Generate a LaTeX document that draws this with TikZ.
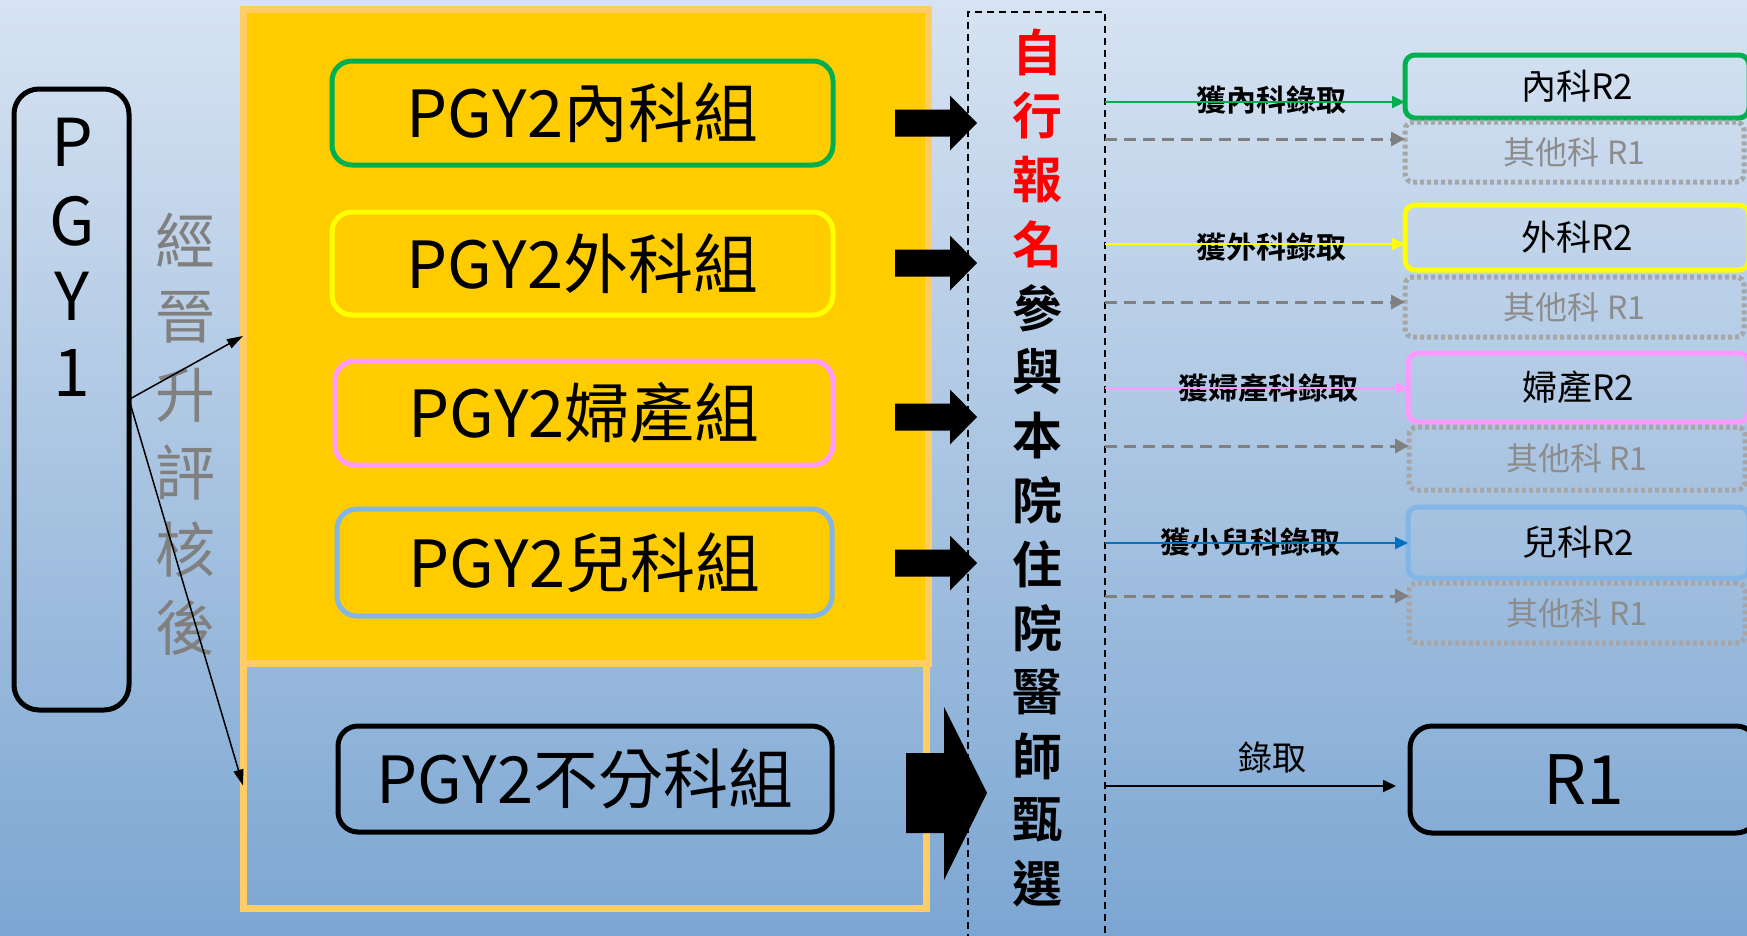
\documentclass[tikz,border=0pt]{standalone}
\usepackage{fontspec}
\setmainfont{Noto Sans CJK TC}[BoldFont={Noto Sans CJK TC Bold}]
\usetikzlibrary{arrows.meta,calc}
\definecolor{bgtop}{RGB}{215,227,242}
\definecolor{bgbot}{RGB}{124,166,210}
\definecolor{gold}{HTML}{FFCC00}
\definecolor{lorange}{HTML}{FFCC66}
\definecolor{mgreen}{HTML}{00B050}
\definecolor{myellow}{HTML}{FFFF00}
\definecolor{mpink}{HTML}{FF99FF}
\definecolor{lblue}{HTML}{82B6E6}
\definecolor{dblue}{HTML}{0070C0}
\definecolor{dgray}{HTML}{808080}
\definecolor{lgray}{HTML}{A6A6A6}
\definecolor{tgray}{RGB}{140,140,140}
\newcommand\myfs[1]{\fontsize{#1}{#1}\selectfont}
\begin{document}
\begin{tikzpicture}[x=1pt,y=-1pt,
  every node/.style={inner sep=0pt,outer sep=0pt},
  gbox/.style={draw=#1,line width=5pt,rounded corners=20pt,font=\myfs{65}},
  rbox/.style={draw=#1,line width=5pt,rounded corners=10pt,font=\myfs{35}},
  obox/.style={draw=lgray,line width=5pt,rounded corners=8pt,dash pattern=on 4pt off 3pt,font=\myfs{32},text=tgray},
  conn/.style={draw=#1,line width=2pt,-{Triangle[length=13pt,width=12pt]}},
  gconn/.style={draw=dgray,line width=3pt,dash pattern=on 12pt off 7pt,-{Triangle[length=14pt,width=14pt]}},
  thinarr/.style={draw=black,line width=1.5pt,-{Triangle[length=16pt,width=10pt]}},
  lab/.style={font=\bfseries\myfs{30}},
  vchar/.style={font=\bfseries\myfs{50}},
  gchar/.style={font=\myfs{60},text=dgray},
  pchar/.style={font=\myfs{66}},
  blk/.style={fill=black}
]
\useasboundingbox (0,0) rectangle (1747,935);
\clip (0,0) rectangle (1747,935);
\shade[top color=bgtop,bottom color=bgbot] (0,0) rectangle (1747,935);

% left PGY1
\node[draw,line width=5pt,rounded corners=25pt,minimum width=115pt,minimum height=621pt] (p1) at (71.5,399.5) {};
\foreach \c/\y [count=\i] in {P/142,G/221,Y/296,1/373} {\node[pchar] (pl\i) at (72,\y) {\c};}
\foreach \c [count=\i from 0] in {經,晉,升,評,核,後} {\node[gchar] (g\i) at (185,{240+77.5*\i}) {\c};}

% group boxes
\node[fill=gold,draw=lorange,line width=7pt,minimum width=685pt,minimum height=654pt] (ybox) at (585.5,336) {};
\node[draw=lorange,line width=7pt,minimum width=683pt,minimum height=245pt] (lbox) at (584.5,785.5) {};

\node[gbox=mgreen,minimum width=501pt,minimum height=104pt] (nk) at (582.5,113) {PGY2內科組};
\node[gbox=myellow,minimum width=501pt,minimum height=103pt] (wk) at (582.5,263.5) {PGY2外科組};
\node[gbox=mpink,minimum width=498pt,minimum height=104pt] (fc) at (584,413) {PGY2婦產組};
\node[gbox=lblue,minimum width=495pt,minimum height=107pt] (ek) at (584.5,562.5) {PGY2兒科組};
\node[gbox=black,minimum width=494pt,minimum height=106pt] (bf) at (585,779) {PGY2不分科組};

\draw[thinarr] (p1.east) -- (ybox.west);
\draw[thinarr] (p1.east) -- (lbox.west);

% block arrows
\foreach \c in {123,263,417,563} {
  \fill[blk] (895,\c-13.5) -- (950,\c-13.5) -- (950,\c-27.5) -- (977,\c) -- (950,\c+27.5) -- (950,\c+13.5) -- (895,\c+13.5) -- cycle;
}
\fill[blk] (906,753) -- (944,753) -- (944,707) -- (987,793) -- (944,880) -- (944,833) -- (906,833) -- cycle;

% selection dashed box
\node[draw,line width=1.5pt,dash pattern=on 7pt off 5pt,minimum width=137pt,minimum height=940pt] (sel) at (1036.5,482) {};
\foreach \c [count=\i from 0] in {自,行,報,名} {\node[vchar,text=red] (v\i) at (1037,{52+64*\i}) {\c};}
\foreach \c [count=\i from 4] in {參,與,本,院,住,院,醫,師,甄,選} {\node[vchar] (v\i) at (1037,{52+64*\i}) {\c};}

% right boxes
\node[rbox=mgreen,minimum width=344pt,minimum height=63pt] (r2n) at (1577,86.5) {內科R2};
\node[obox,minimum width=339pt,minimum height=60pt] (o1) at (1574.5,152) {其他科 R1};
\node[rbox=myellow,minimum width=344pt,minimum height=65pt] (r2w) at (1577,237.5) {外科R2};
\node[obox,minimum width=339pt,minimum height=60pt] (o2) at (1574.5,307) {其他科 R1};
\node[rbox=mpink,minimum width=341pt,minimum height=69pt] (r2f) at (1578.5,387.5) {婦產R2};
\node[obox,minimum width=336pt,minimum height=63pt] (o3) at (1577,458.5) {其他科 R1};
\node[rbox=lblue,minimum width=341pt,minimum height=71pt] (r2e) at (1578.5,542.5) {兒科R2};
\node[obox,minimum width=336pt,minimum height=60pt] (o4) at (1577,613) {其他科 R1};
\node[draw,line width=5pt,rounded corners=22pt,minimum width=348pt,minimum height=107pt,font=\myfs{68}] (r1) at (1584,779.5) {R1};

% labels
\node[lab] (l1) at (1271,100) {獲內科錄取};
\node[lab] (l2) at (1271,247) {獲外科錄取};
\node[lab] (l3) at (1268,388) {獲婦產科錄取};
\node[lab] (l4) at (1250,542) {獲小兒科錄取};
\node[font=\myfs{34}] (l5) at (1272,758) {錄取};

% connectors
\coordinate (ya) at (0,102);
\coordinate (yb) at (0,139);
\coordinate (yc) at (0,244);
\coordinate (yd) at (0,302);
\coordinate (ye) at (0,388);
\coordinate (yf) at (0,446);
\coordinate (yg) at (0,543);
\coordinate (yh) at (0,596);
\coordinate (yk) at (0,786);
\draw[conn=mgreen] (sel.east |- ya) -- (r2n.west |- ya);
\draw[gconn] (sel.east |- yb) -- (o1.west |- yb);
\draw[conn=myellow] (sel.east |- yc) -- (r2w.west |- yc);
\draw[gconn] (sel.east |- yd) -- (o2.west |- yd);
\draw[conn=mpink] (sel.east |- ye) -- (r2f.west |- ye);
\draw[gconn] (sel.east |- yf) -- (o3.west |- yf);
\draw[conn=dblue] (sel.east |- yg) -- (r2e.west |- yg);
\draw[gconn] (sel.east |- yh) -- (o4.west |- yh);
\draw[conn=black,shorten >=14pt] (sel.east |- yk) -- (r1.west |- yk);
\end{tikzpicture}
\end{document}
